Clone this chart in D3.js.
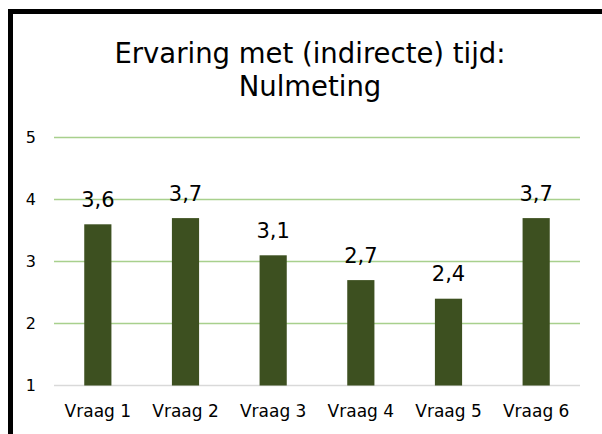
<!DOCTYPE html>
<html lang="nl">
<head>
    <meta charset="UTF-8">
    <title>Ervaring met (indirecte) tijd: Nulmeting</title>
    <script src="https://d3js.org/d3.v7.min.js"></script>
    <style>
        body { margin: 0; background: #fff; }
        svg { display: block; }
        text { font-family: "DejaVu Sans", sans-serif; fill: #000; }
    </style>
</head>
<body>
<script>
    const categories = ["Vraag 1", "Vraag 2", "Vraag 3", "Vraag 4", "Vraag 5", "Vraag 6"];
    const values = [3.6, 3.7, 3.1, 2.7, 2.4, 3.7];
    const yTicks = [1, 2, 3, 4, 5];
    const titleLines = ["Ervaring met (indirecte) tijd:", "Nulmeting"];

    const width = 602, height = 434;
    const svg = d3.select("body").append("svg")
        .attr("width", width)
        .attr("height", height);

    // chart frame, runs off the right and bottom edge
    svg.append("rect")
        .attr("x", 10.5).attr("y", 11.5)
        .attr("width", 620).attr("height", 450)
        .attr("fill", "#fff")
        .attr("stroke", "#000")
        .attr("stroke-width", 5);

    const x = d3.scaleBand()
        .domain(categories)
        .range([54, 580])
        .paddingInner(0.69)
        .paddingOuter(0.345);

    const y = d3.scaleLinear()
        .domain([1, 5])
        .range([385.5, 137.5]);

    // title
    svg.append("text")
        .attr("text-anchor", "middle")
        .attr("font-size", 27.5)
        .selectAll("tspan")
        .data(titleLines)
        .join("tspan")
        .attr("x", 310)
        .attr("y", (d, i) => 62.5 + i * 33)
        .text(d => d);

    // gridlines
    svg.append("g")
        .selectAll("line")
        .data(yTicks)
        .join("line")
        .attr("x1", 54).attr("x2", 580)
        .attr("y1", d => y(d)).attr("y2", d => y(d))
        .attr("stroke", d => d === 1 ? "#d9d9d9" : "#a8d08d")
        .attr("stroke-width", 1.5);

    // y tick labels
    svg.append("g")
        .selectAll("text")
        .data(yTicks)
        .join("text")
        .attr("x", 36)
        .attr("y", d => y(d))
        .attr("dy", "0.36em")
        .attr("text-anchor", "end")
        .attr("font-size", 16)
        .text(d => d);

    // bars
    svg.append("g")
        .selectAll("rect")
        .data(values)
        .join("rect")
        .attr("x", (d, i) => x(categories[i]))
        .attr("width", x.bandwidth())
        .attr("y", d => y(d))
        .attr("height", d => y(1) - y(d))
        .attr("fill", "#3d5020");

    // value labels
    svg.append("g")
        .selectAll("text")
        .data(values)
        .join("text")
        .attr("x", (d, i) => x(categories[i]) + x.bandwidth() / 2)
        .attr("y", d => y(d) - 17.5)
        .attr("text-anchor", "middle")
        .attr("font-size", 21)
        .text(d => d3.format(".1f")(d).replace(".", ","));

    // category labels
    svg.append("g")
        .selectAll("text")
        .data(categories)
        .join("text")
        .attr("x", d => x(d) + x.bandwidth() / 2)
        .attr("y", 416.5)
        .attr("text-anchor", "middle")
        .attr("font-size", 17)
        .text(d => d);
</script>
</body>
</html>
